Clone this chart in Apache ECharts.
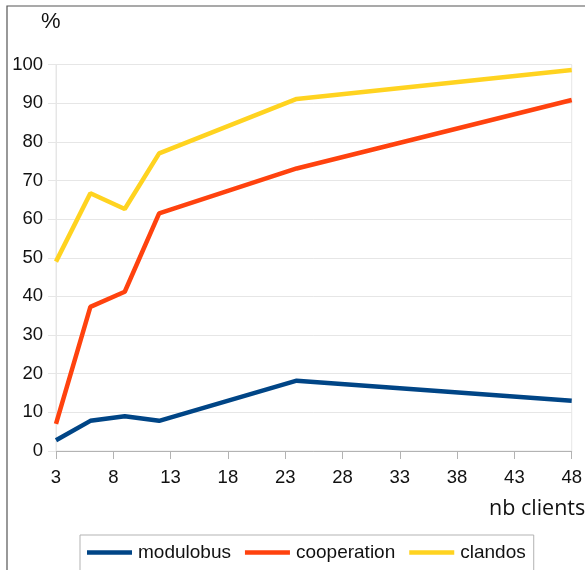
<!DOCTYPE html>
<html><head><meta charset="utf-8">
<script src="https://cdn.jsdelivr.net/npm/echarts@6/dist/echarts.min.js"></script>
<style>html,body{margin:0;padding:0;background:#fff}#c{width:585px;height:570px}</style>
</head><body><div id="c"></div>
<script>
const xValues = [3, 6, 9, 12, 24, 48];
const seriesNames = ['modulobus', 'cooperation', 'clandos'];
const modulobus = [2.8, 7.8, 9.0, 7.8, 18.2, 13.0];
const cooperation = [7.0, 37.3, 41.2, 61.5, 73.1, 90.8];
const clandos = [49.0, 66.7, 62.6, 77.0, 91.1, 98.6];
const colors = ['#004586', '#ff420e', '#ffd320'];

const chart = echarts.init(document.getElementById('c'));
const font = '"Liberation Sans", Arial, sans-serif';
const allData = [modulobus, cooperation, clandos];
chart.setOption({
  animation: false,
  textStyle: { fontFamily: font },
  grid: { left: 56, right: 10, top: 64.5, bottom: 119, show: true, borderColor: '#e6e6e6', borderWidth: 1, containLabel: false },
  graphic: [
    { type: 'rect', shape: { x: 7, y: 6, width: 600, height: 600 }, style: { fill: 'none', stroke: '#555', lineWidth: 1.2 }, z: -10 },
    { type: 'text', left: 41, top: 11, style: { text: '%', font: '22px ' + font, fill: '#111' } },
    { type: 'text', left: 489, top: 498, style: { text: 'nb clients', font: '21.5px "Open Sans", sans-serif', fill: '#111' } }
  ],
  legend: {
    left: 80, top: 535,
    padding: [8, 8, 20, 7],
    borderColor: '#b3b3b3', borderWidth: 1,
    itemWidth: 45, itemHeight: 4.5, itemGap: 14,
    icon: 'rect',
    textStyle: { fontSize: 19, color: '#111', fontFamily: font, padding: [0, 0, 0, 1] },
    data: seriesNames
  },
  xAxis: {
    type: 'value', min: 3, max: 48, interval: 5,
    axisLine: { lineStyle: { color: '#b3b3b3', width: 1 } },
    axisTick: { show: true, length: 8, lineStyle: { color: '#b3b3b3' } },
    axisLabel: { fontSize: 18.5, color: '#111', margin: 17 },
    splitLine: { show: false }
  },
  yAxis: {
    type: 'value', min: 0, max: 100, interval: 10,
    axisLine: { show: true, lineStyle: { color: '#e6e6e6' } },
    axisTick: { show: true, length: 8, lineStyle: { color: '#e6e6e6' } },
    axisLabel: { fontSize: 18.5, color: '#111', margin: 13 },
    splitLine: { show: true, lineStyle: { color: '#e6e6e6' } }
  },
  series: seriesNames.map((n, i) => ({
    name: n, type: 'line', showSymbol: false, symbol: 'none',
    data: xValues.map((x, j) => [x, allData[i][j]]),
    lineStyle: { color: colors[i], width: 4.5 },
    itemStyle: { color: colors[i] }
  }))
});
</script></body></html>
